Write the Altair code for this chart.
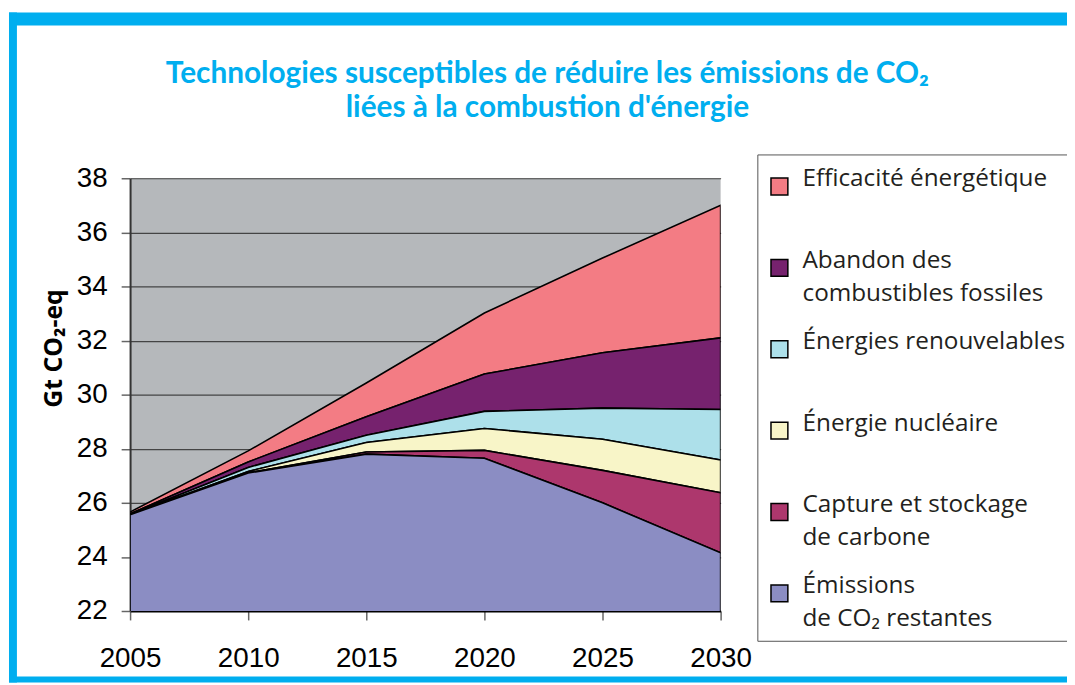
import altair as alt
import pandas as pd

years = [2005, 2010, 2015, 2020, 2025, 2030]
emissions = [25.56, 27.10, 27.80, 27.65, 26.00, 24.15]
ccs = [0.00, 0.01, 0.08, 0.29, 1.20, 2.22]
nuclear = [0.00, 0.05, 0.35, 0.81, 1.15, 1.21]
renew = [0.01, 0.15, 0.27, 0.63, 1.15, 1.87]
fossil = [0.02, 0.20, 0.68, 1.38, 2.05, 2.65]
efficacy = [0.07, 0.41, 1.25, 2.26, 3.50, 4.90]

series_names = [
    "Efficacité énergétique\n ",
    "Abandon des\ncombustibles fossiles",
    "Énergies renouvelables\n ",
    "Énergie nucléaire\n ",
    "Capture et stockage\nde carbone",
    "Émissions\nde CO₂ restantes",
]
series_values = [efficacy, fossil, renew, nuclear, ccs, emissions]
series_colors = ["#F37C84", "#76226E", "#ADE0EA", "#F8F5C8", "#AD376D", "#8B8DC3"]
y_ticks = [22, 24, 26, 28, 30, 32, 34, 36, 38]

rows = []
for i, (name, vals) in enumerate(zip(series_names, series_values)):
    for yr, v in zip(years, vals):
        rows.append({"year": yr, "serie": name, "value": v, "order": len(series_names) - i})
df = pd.DataFrame(rows)

areas = alt.Chart(df).mark_area(
    stroke="black", strokeWidth=1.6, clip=True, opacity=1
).encode(
    x=alt.X("year:Q", scale=alt.Scale(domain=[2005, 2030], nice=False),
            axis=alt.Axis(values=years, format="d", title=None, grid=False, labelFlush=False,
                          labelFont="Liberation Sans", labelFontSize=28, labelColor="black",
                          labelPadding=25, tickSize=9, tickColor="#666", tickWidth=1.5,
                          domainColor="black", domainWidth=2)),
    y=alt.Y("value:Q", stack="zero",
            scale=alt.Scale(domain=[22, 38], nice=False, zero=False),
            axis=alt.Axis(values=y_ticks, title="Gt CO₂-eq", grid=True,
                          gridColor="#444", gridWidth=1.2,
                          labelFont="Liberation Sans", labelFontSize=28, labelColor="black",
                          labelPadding=14, tickSize=9, tickColor="#666", tickWidth=1.5,
                          domainColor="#333", domainWidth=2,
                          titleFont="Open Sans", titleFontSize=25, titleFontWeight="bold",
                          titleColor="black", titleY=171, titlePadding=10)),
    color=alt.Color("serie:N", sort=series_names,
                    scale=alt.Scale(domain=series_names, range=series_colors),
                    legend=alt.Legend(
                        title=" ", titleFontSize=2, titlePadding=8,
                        orient="none", legendX=632, legendY=-24,
                        padding=10, strokeColor="#555",
                        symbolType="square", symbolSize=289, symbolStrokeColor="black",
                        symbolStrokeWidth=1.5, symbolOpacity=1,
                        labelFont="Open Sans", labelFontSize=24.5, labelColor="#231F20",
                        labelBaseline="alphabetic",
                        labelOffset=11, labelLimit=0, rowPadding=24,
                        labelExpr="split(datum.label, '\\n')")),
    order=alt.Order("order:Q"),
)

def band(x1, x2, y1, y2):
    return alt.Chart(pd.DataFrame({"k": [0]})).mark_rect(color="#00AEEF").encode(
        x=alt.value(x1), x2=alt.value(x2), y=alt.value(y1), y2=alt.value(y2))

frame = band(-122, 944, -167, -154) + band(-122, -114, -167, 508) + band(-122, 944, 502, 508)

chart = alt.layer(areas, frame).properties(
    width=595, height=436,
    title=alt.Title(
        text=["Technologies susceptibles de réduire les émissions de CO₂",
              "liées à la combustion d'énergie"],
        font="Lato", fontSize=30, fontWeight="bold", color="#00AEEF",
        anchor="middle", dx=123, lineHeight=34, offset=-111),
    autosize=alt.AutoSizeParams(type="none"),
    padding={"left": 123, "top": 169, "right": 349, "bottom": 72},
).configure(
    style={"guide-label": {"lineHeight": 33}}
).configure_view(fill="#B5B8BB", stroke=None)

chart.save("out.html", embed_options={"renderer": "svg", "actions": False})
